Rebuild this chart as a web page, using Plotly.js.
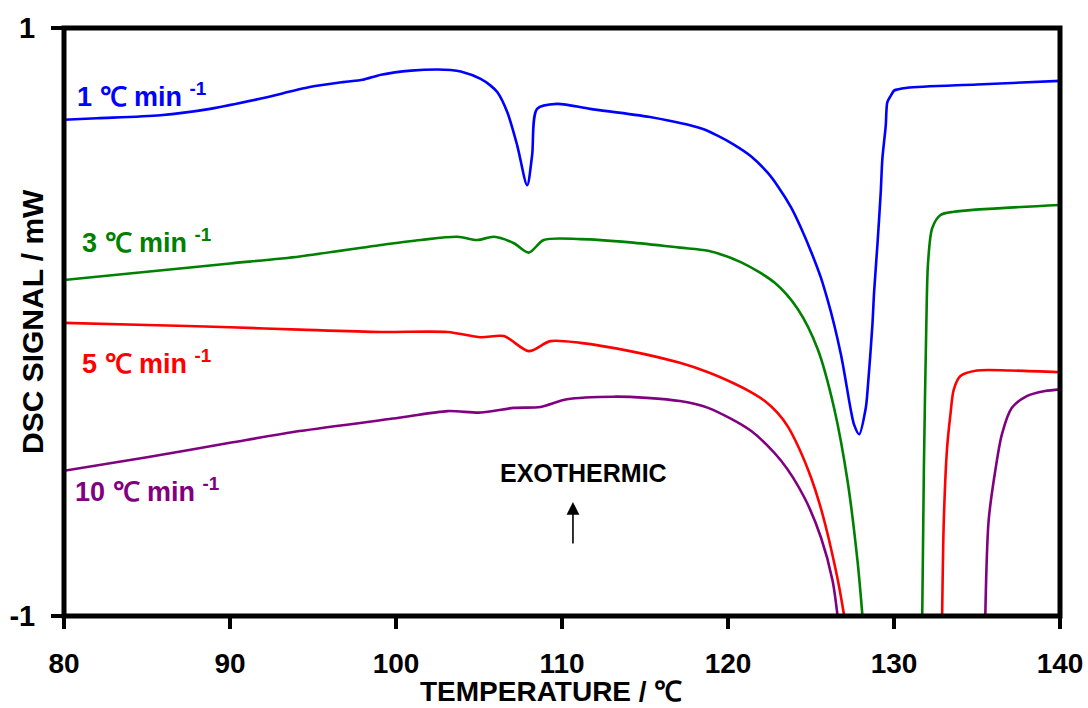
<!DOCTYPE html>
<html>
<head>
<meta charset="utf-8">
<script src="https://cdn.plot.ly/plotly-3.0.1.min.js"></script>
<style>
html,body{margin:0;padding:0;background:#fff;}
#chart{width:1088px;height:708px;}
</style>
</head>
<body>
<div id="chart"></div>
<script>
// ---- Data (temperature in ℃, DSC signal in mW) ----
// 1 ℃/min
var temp1 = [80, 82, 85.8, 88.8, 91.8, 94.8, 96.8, 98.0, 99.1, 100.9, 102.5, 103.3, 103.9, 105.1, 105.7, 106.1, 106.7, 107.3, 107.9, 108.2, 108.5, 109.7, 111.7, 115.3, 118.4, 119.4, 120.3, 121.4, 122.4, 123.0, 123.8, 124.4, 125.0, 125.6, 126.0, 126.4, 126.8, 127.0, 127.4, 127.6, 127.9, 128.3, 128.4, 128.7, 128.8, 129.0, 129.2, 129.3, 129.5, 129.6, 129.8, 130.0, 130.2, 130.8, 135, 140];
var signal1 = [0.688, 0.693, 0.703, 0.725, 0.759, 0.799, 0.816, 0.824, 0.841, 0.855, 0.859, 0.857, 0.852, 0.827, 0.804, 0.782, 0.714, 0.601, 0.465, 0.567, 0.725, 0.742, 0.725, 0.697, 0.658, 0.633, 0.605, 0.563, 0.507, 0.462, 0.390, 0.320, 0.240, 0.150, 0.075, -0.010, -0.110, -0.170, -0.300, -0.350, -0.382, -0.292, -0.238, -0.009, 0.101, 0.262, 0.440, 0.556, 0.666, 0.748, 0.769, 0.787, 0.791, 0.797, 0.808, 0.820];

// 3 ℃/min (null separates the two branches that leave the plotted range)
var temp3 = [80, 85, 90, 94.2, 99.1, 101.5, 103.7, 104.9, 105.9, 107.1, 108.0, 108.9, 111.1, 114.1, 117.1, 118.8, 120.8, 122.8, 124.2, 125.4, 126.4, 127.2, 127.8, 128.1, null, 131.7, 131.8, 131.95, 132.05, 132.3, 132.8, 133.6, 140];
var signal3 = [0.143, 0.171, 0.199, 0.223, 0.262, 0.279, 0.290, 0.279, 0.290, 0.268, 0.236, 0.279, 0.282, 0.271, 0.253, 0.242, 0.203, 0.134, 0.044, -0.092, -0.295, -0.540, -0.812, -1.0, null, -1.0, -0.5, 0.0, 0.2, 0.319, 0.364, 0.375, 0.398];

// 5 ℃/min
var temp5 = [80, 85, 90, 94.2, 99.1, 103.1, 105.1, 106.5, 108.0, 109.3, 111.1, 114.1, 117.1, 118.8, 120.4, 121.3, 122.2, 123.0, 123.6, 124.3, 125.0, 125.5, 126.0, 126.4, 126.7, 127.0, null, 132.9, 133.0, 133.2, 133.4, 133.6, 134.0, 135.0, 137.0, 140];
var signal5 = [-0.003, -0.010, -0.018, -0.026, -0.034, -0.034, -0.052, -0.048, -0.099, -0.065, -0.071, -0.099, -0.139, -0.171, -0.210, -0.236, -0.268, -0.310, -0.355, -0.432, -0.529, -0.615, -0.721, -0.820, -0.902, -1.0, null, -1.0, -0.676, -0.427, -0.314, -0.230, -0.184, -0.165, -0.165, -0.171];

// 10 ℃/min
var temp10 = [80, 85, 90, 94.2, 100.3, 103.1, 105.1, 107.1, 108.7, 110.3, 113.1, 115.1, 117.1, 118.8, 121.4, 123.2, 124.6, 125.6, 126.3, 126.6, null, 135.5, 135.7, 136.1, 136.5, 137.1, 138.0, 139.1, 140];
var signal10 = [-0.506, -0.460, -0.411, -0.371, -0.325, -0.303, -0.308, -0.292, -0.289, -0.263, -0.254, -0.258, -0.269, -0.292, -0.371, -0.472, -0.597, -0.733, -0.880, -1.0, null, -1.0, -0.676, -0.506, -0.382, -0.292, -0.252, -0.235, -0.229];

var seriesNames = ['1 ℃ min <sup>-1</sup>', '3 ℃ min <sup>-1</sup>', '5 ℃ min <sup>-1</sup>', '10 ℃ min <sup>-1</sup>'];
var seriesColors = ['#0000FF', '#008000', '#FF0000', '#800080'];
var xTickVals = [80, 90, 100, 110, 120, 130, 140];
var yTickVals = [-1, 1];
var yTickText = ['-1', '1'];
var xTitle = 'TEMPERATURE / ℃';
var yTitle = 'DSC SIGNAL / mW';
var noteText = 'EXOTHERMIC';

var temps = [temp1, temp3, temp5, temp10];
var signals = [signal1, signal3, signal5, signal10];

var FONT = 'Liberation Sans, Arial, Helvetica, sans-serif';

var traces = temps.map(function (t, i) {
  return {
    x: t, y: signals[i], type: 'scatter', mode: 'lines',
    connectgaps: false,
    name: seriesNames[i],
    line: {color: seriesColors[i], width: 2.6, shape: 'spline', smoothing: 0.8},
    hoverinfo: 'x+y'
  };
});

// label positions (paper coords)
var labelPos = [[0.011, 0.886], [0.016, 0.638], [0.016, 0.432], [0.009, 0.214]];
var annotations = seriesNames.map(function (n, i) {
  return {
    xref: 'paper', yref: 'paper', x: labelPos[i][0], y: labelPos[i][1],
    xanchor: 'left', yanchor: 'middle', showarrow: false,
    text: n,
    font: {family: FONT, size: 27, color: seriesColors[i], weight: 'bold'}
  };
});
annotations.push({
  xref: 'paper', yref: 'paper', x: 0.5216, y: 0.243,
  xanchor: 'center', yanchor: 'middle', showarrow: false,
  text: noteText,
  font: {family: FONT, size: 25, color: '#000', weight: 'bold'}
});
annotations.push({
  xref: 'paper', yref: 'paper', x: 0.511, y: 0.194,
  ax: 0, ay: 43, text: '', showarrow: true,
  arrowhead: 2, arrowsize: 1.6, arrowwidth: 1.6, arrowcolor: '#000', standoff: 0
});
// axis titles
annotations.push({
  xref: 'paper', yref: 'paper', x: -0.0321, y: 0.5,
  xanchor: 'center', yanchor: 'middle', showarrow: false, textangle: -90,
  text: yTitle,
  font: {family: FONT, size: 30, color: '#000', weight: 'bold'}
});
annotations.push({
  xref: 'paper', yref: 'paper', x: 0.489, y: -0.129,
  xanchor: 'center', yanchor: 'middle', showarrow: false,
  text: xTitle,
  font: {family: FONT, size: 28, color: '#000', weight: 'bold'}
});

var layout = {
  width: 1088, height: 708,
  margin: {l: 64, r: 28, t: 28, b: 92, pad: 0},
  paper_bgcolor: '#fff', plot_bgcolor: '#fff',
  showlegend: false,
  font: {family: FONT, color: '#000'},
  xaxis: {
    range: [80, 140], tickvals: xTickVals,
    showline: false, zeroline: false, showgrid: false,
    ticks: 'outside', ticklen: 12, tickwidth: 4, tickcolor: '#000',
    ticklabelstandoff: 10,
    tickfont: {family: FONT, size: 28, color: '#000', weight: 'bold'}
  },
  yaxis: {
    range: [-1, 1], tickvals: yTickVals, ticktext: yTickText,
    showline: false, zeroline: false, showgrid: false,
    ticks: 'outside', ticklen: 12, tickwidth: 4, tickcolor: '#000',
    ticklabelstandoff: 10,
    tickfont: {family: FONT, size: 29, color: '#000', weight: 'bold'}
  },
  shapes: [{
    type: 'rect', xref: 'paper', yref: 'paper', x0: 0, x1: 1, y0: 0, y1: 1,
    line: {color: '#000', width: 5}, layer: 'above'
  }],
  annotations: annotations
};

Plotly.newPlot('chart', traces, layout, {staticPlot: true, displayModeBar: false});
</script>
</body>
</html>
